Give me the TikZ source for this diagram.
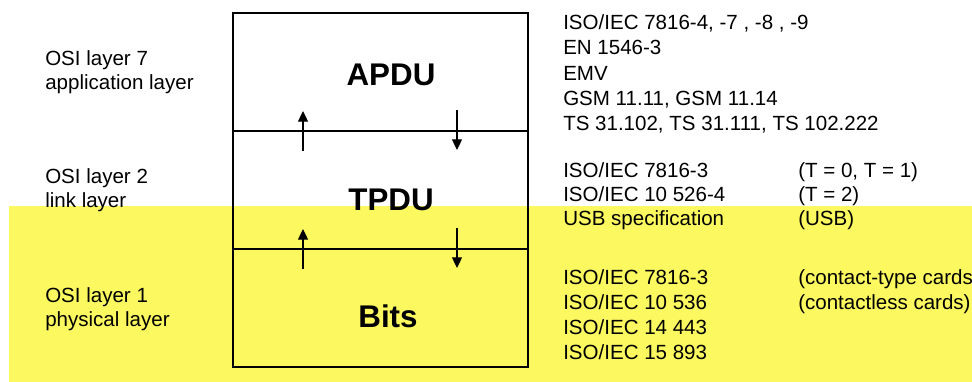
\documentclass[tikz,border=0pt]{standalone}
\usepackage{fontspec}
\setmainfont{Liberation Sans}
\usetikzlibrary{arrows.meta, positioning}
\definecolor{highlight}{RGB}{252,248,95}

\begin{document}
\begin{tikzpicture}[x=0.75pt, y=-0.75pt, >={Triangle[length=8pt, width=7.5pt]},
    layer/.style={draw, line width=1pt, outer sep=0pt, inner sep=0pt,
        minimum width=221.25pt, minimum height=88.5pt},
    pdu/.style={font=\fontsize{23.5}{28}\selectfont\bfseries, inner sep=0pt},
    txt/.style={font=\fontsize{15.4}{18}\selectfont, anchor=base west, inner sep=0pt},
    flow/.style={->, line width=0.9pt}]
    \useasboundingbox (0,0) rectangle (972,382);
    \clip (0,0) rectangle (972,382);

    % the three layers
    \node[layer] (app) at (380.5,72) {};
    \node[layer, below=0pt of app] (link) {};
    \node[layer, below=0pt of link] (phys) {};

    \node[pdu] (apdu) at (391,75) {APDU};
    \node[pdu] (tpdu) at (391,200) {TPDU};
    \node[pdu] (bits) at (388,316) {Bits};

    % up and down between the layers
    \foreach \y/\n in {131/1, 249/2} {
        \coordinate (up\n a) at (303,\y+20);
        \coordinate (up\n b) at (303,\y-20);
        \coordinate (dn\n a) at (457,\y-21);
        \coordinate (dn\n b) at (457,\y+19);
        \draw[flow] (up\n a) -- (up\n b);
        \draw[flow] (dn\n a) -- (dn\n b);
    }

    % OSI names
    \node[txt] (osi7) at (45,65) {OSI layer 7};
    \node[txt] (osi7b) at (45,89) {application layer};
    \node[txt] (osi2) at (45,183) {OSI layer 2};
    \node[txt] (osi2b) at (45,207) {link layer};
    \node[txt] (osi1) at (45,302) {OSI layer 1};
    \node[txt] (osi1b) at (45,326) {physical layer};

    % standards
    \foreach \t [count=\i] in {{ISO/IEC 7816-4, -7 , -8 , -9}, EN 1546-3, EMV,
        {GSM 11.11, GSM 11.14}, {TS 31.102, TS 31.111, TS 102.222}}
        \node[txt] (std7\i) at (563,5+25*\i) {\t};

    \node[txt] (std2a) at (563,177) {ISO/IEC 7816-3};
    \node[txt] (std2b) at (563,201) {ISO/IEC 10 526-4};
    \node[txt] (std2c) at (563,225) {USB specification};
    \node[txt] (note2a) at (798,177) {(T = 0, T = 1)};
    \node[txt] (note2b) at (798,201) {(T = 2)};
    \node[txt] (note2c) at (798,225) {(USB)};

    \foreach \t [count=\i] in {ISO/IEC 7816-3, ISO/IEC 10 536, ISO/IEC 14 443, ISO/IEC 15 893}
        \node[txt] (std1\i) at (563,259+25*\i) {\t};
    \node[txt] (note1a) at (798,284) {(contact-type cards)};
    \node[txt] (note1b) at (798,309) {(contactless cards)};

    % highlight
    \fill[highlight, blend mode=multiply] (9,206) rectangle (972,382);
\end{tikzpicture}
\end{document}
